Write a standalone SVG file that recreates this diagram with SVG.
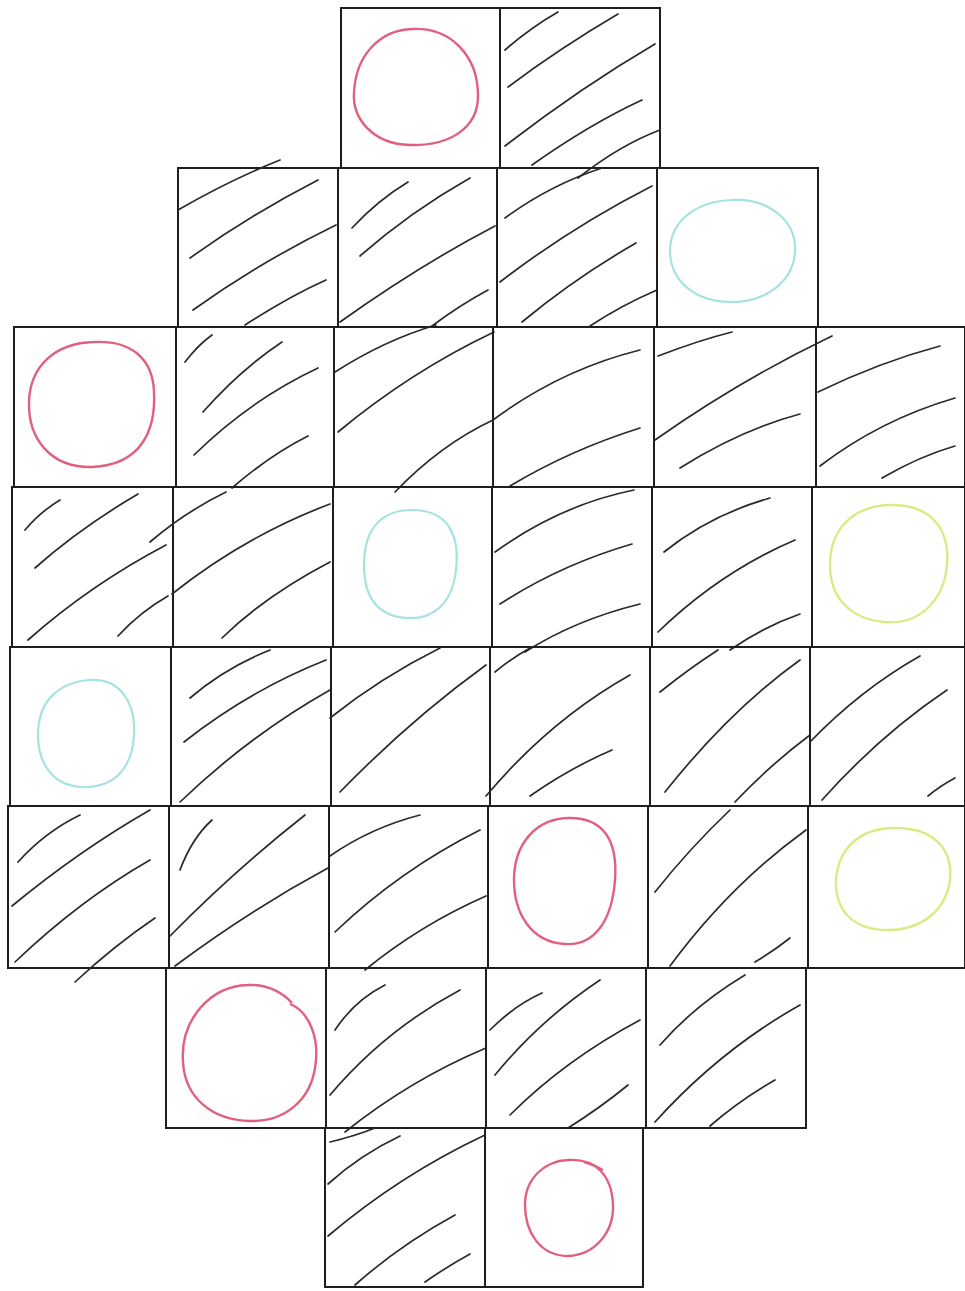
<svg xmlns="http://www.w3.org/2000/svg" width="965" height="1291" viewBox="0 0 965 1291">
<style>
.cell{fill:none;stroke:#1e1e1e;stroke-width:2}
.h{fill:none;stroke:#2a2a2a;stroke-width:1.7;stroke-linecap:round}
.red{fill:none;stroke:#e0607e;stroke-width:2.4}
.cyan{fill:none;stroke:#a6e2e0;stroke-width:2.2}
.yel{fill:none;stroke:#dcea84;stroke-width:2.4}
</style>
<rect width="965" height="1291" fill="#ffffff"/>
<!-- Row 0 -->
<g id="r0c0"><rect class="cell" x="341" y="8" width="159" height="160"/><path class="red" d="M412,29 C450,27 478,55 478,96 C478,128 450,146 410,145 C372,144 352,118 354,92 C356,55 380,30 412,29 Z"/></g>
<g id="r0c1"><rect class="cell" x="500" y="8" width="160" height="160"/><path class="h" d="M505,50 Q530,28 558,12 M508,87 Q560,48 618,14 M505,146 Q580,88 655,44 M532,165 Q590,124 642,100 M578,178 Q620,145 660,130"/></g>
<!-- Row 1 -->
<g id="r1c0"><rect class="cell" x="178" y="168" width="160" height="159"/><path class="h" d="M178,210 Q230,180 280,160 M190,258 Q250,215 318,180 M193,310 Q260,262 336,225 M245,325 Q290,296 326,280"/></g>
<g id="r1c1"><rect class="cell" x="338" y="168" width="159" height="159"/><path class="h" d="M352,228 Q378,200 408,182 M360,256 Q410,212 470,178 M340,322 Q420,265 495,226 M432,326 Q460,305 488,290"/></g>
<g id="r1c2"><rect class="cell" x="497" y="168" width="160" height="159"/><path class="h" d="M505,218 Q550,185 602,168 M500,282 Q570,228 652,186 M522,322 Q575,278 636,243 M590,326 Q622,305 657,290"/></g>
<g id="r1c3"><rect class="cell" x="657" y="168" width="161" height="159"/><path class="cyan" d="M732,200 C770,198 797,222 795,252 C793,282 765,303 730,302 C693,301 670,280 670,250 C671,218 700,201 732,200 Z"/></g>
<!-- Row 2 -->
<g id="r2c0"><rect class="cell" x="14" y="327" width="162" height="160"/><path class="red" d="M94,342 C130,340 153,358 154,392 C156,432 140,465 92,467 C50,468 28,438 29,402 C30,366 55,343 94,342 Z"/></g>
<g id="r2c1"><rect class="cell" x="176" y="327" width="158" height="160"/><path class="h" d="M185,362 Q198,345 212,335 M203,412 Q240,370 282,342 M194,455 Q250,400 318,368 M232,488 Q270,455 308,436"/></g>
<g id="r2c2"><rect class="cell" x="334" y="327" width="159" height="160"/><path class="h" d="M335,372 Q385,340 436,325 M338,432 Q410,372 494,332 M395,492 Q440,445 493,420"/></g>
<g id="r2c3"><rect class="cell" x="493" y="327" width="161" height="160"/><path class="h" d="M493,420 Q560,370 640,350 M510,486 Q570,450 640,428"/></g>
<g id="r2c4"><rect class="cell" x="654" y="327" width="162" height="160"/><path class="h" d="M658,356 Q700,340 732,332 M655,440 Q740,380 832,336 M680,468 Q740,430 800,414"/></g>
<g id="r2c5"><rect class="cell" x="816" y="327" width="149" height="160"/><path class="h" d="M818,392 Q880,362 940,346 M820,466 Q880,420 955,398 M882,478 Q920,456 955,446"/></g>
<!-- Row 3 -->
<g id="r3c0"><rect class="cell" x="12" y="487" width="161" height="160"/><path class="h" d="M25,530 Q40,512 60,500 M35,568 Q80,528 138,494 M28,640 Q90,585 166,545 M118,636 Q140,612 168,596"/></g>
<g id="r3c1"><rect class="cell" x="173" y="487" width="160" height="160"/><path class="h" d="M150,542 Q185,512 226,492 M172,594 Q245,536 330,504 M222,638 Q265,596 330,562"/></g>
<g id="r3c2"><rect class="cell" x="333" y="487" width="159" height="160"/><path class="cyan" d="M412,510 C448,510 460,535 456,570 C452,605 432,620 406,618 C380,616 364,600 364,565 C364,528 382,510 412,510 Z"/></g>
<g id="r3c3"><rect class="cell" x="492" y="487" width="160" height="160"/><path class="h" d="M495,552 Q560,505 634,490 M500,604 Q560,565 632,544 M525,652 Q575,620 640,604"/></g>
<g id="r3c4"><rect class="cell" x="652" y="487" width="160" height="160"/><path class="h" d="M664,552 Q710,515 770,498 M658,632 Q720,572 795,540 M730,650 Q765,626 800,614"/></g>
<g id="r3c5"><rect class="cell" x="812" y="487" width="153" height="160"/><path class="yel" d="M890,505 C930,504 950,528 947,565 C944,600 920,625 885,622 C850,619 830,598 830,565 C830,530 852,506 890,505 Z"/></g>
<!-- Row 4 -->
<g id="r4c0"><rect class="cell" x="10" y="647" width="161" height="159"/><path class="cyan" d="M90,680 C118,678 136,700 134,735 C132,768 115,788 82,787 C52,786 38,762 38,735 C38,700 60,682 90,680 Z"/></g>
<g id="r4c1"><rect class="cell" x="171" y="647" width="160" height="159"/><path class="h" d="M190,698 Q225,668 270,650 M184,742 Q250,690 326,660 M180,802 Q250,735 330,690"/></g>
<g id="r4c2"><rect class="cell" x="331" y="647" width="159" height="159"/><path class="h" d="M330,718 Q380,678 440,648 M340,792 Q410,720 486,665"/></g>
<g id="r4c3"><rect class="cell" x="490" y="647" width="160" height="159"/><path class="h" d="M495,672 Q512,658 530,648 M486,796 Q550,720 630,675 M530,796 Q570,768 612,750"/></g>
<g id="r4c4"><rect class="cell" x="650" y="647" width="160" height="159"/><path class="h" d="M660,692 Q690,668 718,650 M665,792 Q730,710 800,660 M735,802 Q770,765 810,735"/></g>
<g id="r4c5"><rect class="cell" x="810" y="647" width="155" height="159"/><path class="h" d="M810,742 Q860,690 920,656 M822,800 Q880,735 947,690 M928,796 Q940,786 955,778"/></g>
<!-- Row 5 -->
<g id="r5c0"><rect class="cell" x="8" y="806" width="161" height="162"/><path class="h" d="M18,862 Q45,832 80,815 M12,906 Q80,850 150,810 M15,962 Q80,900 150,860 M75,982 Q115,945 155,918"/></g>
<g id="r5c1"><rect class="cell" x="169" y="806" width="160" height="162"/><path class="h" d="M180,870 Q192,838 212,820 M170,936 Q235,870 305,815 M175,966 Q250,910 328,868"/></g>
<g id="r5c2"><rect class="cell" x="329" y="806" width="159" height="162"/><path class="h" d="M330,856 Q370,828 420,815 M335,932 Q400,870 480,830 M365,970 Q420,925 486,896"/></g>
<g id="r5c3"><rect class="cell" x="488" y="806" width="160" height="162"/><path class="red" d="M570,818 C603,818 618,840 615,880 C612,920 595,946 565,944 C530,942 514,912 514,880 C514,845 535,818 570,818 Z"/></g>
<g id="r5c4"><rect class="cell" x="648" y="806" width="160" height="162"/><path class="h" d="M655,892 Q690,848 730,810 M670,966 Q730,885 806,830 M755,962 Q775,950 790,938"/></g>
<g id="r5c5"><rect class="cell" x="808" y="806" width="157" height="162"/><path class="yel" d="M895,828 C935,828 953,850 950,880 C946,910 922,930 888,930 C852,930 835,910 836,880 C838,850 858,828 895,828 Z"/></g>
<!-- Row 6 -->
<g id="r6c0"><rect class="cell" x="166" y="968" width="160" height="160"/><path class="red" d="M248,985 C270,984 285,995 292,1003 M290,1004 C310,1012 320,1040 315,1068 C310,1100 285,1122 250,1121 C212,1120 185,1098 183,1062 C180,1020 210,986 248,985"/></g>
<g id="r6c1"><rect class="cell" x="326" y="968" width="160" height="160"/><path class="h" d="M335,1030 Q355,1000 385,985 M330,1095 Q385,1030 460,990 M345,1132 Q410,1080 486,1048"/></g>
<g id="r6c2"><rect class="cell" x="486" y="968" width="160" height="160"/><path class="h" d="M490,1030 Q515,1005 542,993 M495,1075 Q540,1020 600,980 M510,1115 Q565,1060 640,1020 M568,1128 Q600,1108 628,1085"/></g>
<g id="r6c3"><rect class="cell" x="646" y="968" width="160" height="160"/><path class="h" d="M660,1045 Q695,1005 745,975 M655,1122 Q720,1050 800,1005 M710,1126 Q740,1100 775,1080"/></g>
<!-- Row 7 -->
<g id="r7c0"><rect class="cell" x="325" y="1128" width="160" height="159"/><path class="h" d="M330,1142 Q355,1136 375,1128 M328,1184 Q360,1155 400,1136 M328,1236 Q400,1175 485,1135 M355,1285 Q400,1245 455,1215 M425,1282 Q448,1266 470,1254"/></g>
<g id="r7c1"><rect class="cell" x="485" y="1128" width="158" height="159"/><path class="red" d="M568,1160 C595,1158 612,1175 613,1205 C614,1232 595,1255 568,1256 C540,1256 525,1232 525,1205 C525,1178 545,1161 568,1160 M584,1162 C592,1164 598,1167 603,1170"/></g>
<g id="connectors"></g>
</svg>
